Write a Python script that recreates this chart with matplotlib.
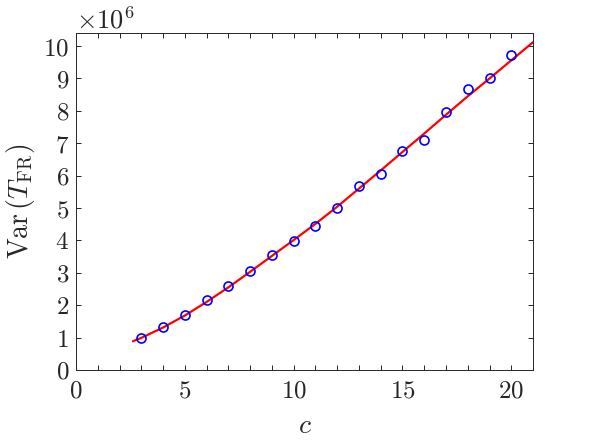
import matplotlib
matplotlib.use("Agg")
import matplotlib.pyplot as plt
from matplotlib.ticker import MultipleLocator, FixedLocator

plt.rcParams['mathtext.fontset'] = 'cm'
plt.rcParams['font.family'] = 'DejaVu Serif'

# measured variance (units of 1e6) for each c
c_vals = [3, 4, 5, 6, 7, 8, 9, 10, 11, 12, 13, 14, 15, 16, 17, 18, 19, 20]
var_vals = [1.00, 1.33, 1.69, 2.17, 2.59, 3.06, 3.56, 3.97, 4.46, 5.01,
            5.68, 6.06, 6.76, 7.11, 7.98, 8.66, 9.03, 9.72]

# fitted curve
fit_c = [2.63, 3, 4, 5, 6, 7, 8, 9, 10, 11, 12, 13, 14, 15, 16, 17, 18, 19, 20, 21]
fit_var = [0.89, 0.99, 1.31, 1.68, 2.10, 2.55, 3.03, 3.52, 4.01, 4.51, 5.04,
           5.60, 6.16, 6.73, 7.30, 7.88, 8.45, 9.00, 9.56, 10.12]

xticks = [0, 5, 10, 15, 20]
yticks = list(range(11))

fig = plt.figure(figsize=(5.89, 4.42), dpi=100)
ax = fig.add_axes([0.129, 0.163, 0.776, 0.762])

ax.plot(fit_c, fit_var, color='red', lw=1.6, zorder=2)
ax.plot(c_vals, var_vals, 'o', mfc='none', mec='blue', ms=6.5, mew=1.2, zorder=3)

ax.set_xlim(0, 21)
ax.set_ylim(0, 10.4)
ax.xaxis.set_major_locator(FixedLocator(xticks))
ax.xaxis.set_minor_locator(MultipleLocator(1))
ax.yaxis.set_major_locator(FixedLocator(yticks))
ax.set_xticklabels(['$%d$' % t for t in xticks])
ax.set_yticklabels(['$%d$' % t for t in yticks])

for s in ax.spines.values():
    s.set_color('#262626')
    s.set_linewidth(0.7)
ax.tick_params(which='both', direction='in', top=True, right=True,
               color='#262626', width=0.7)
ax.tick_params(which='major', length=3.5, labelsize=18, colors='#262626')
ax.tick_params(axis='x', which='major', pad=7)
ax.tick_params(axis='y', which='major', pad=5)
ax.tick_params(which='minor', length=3.5)
for lab in ax.get_xticklabels() + ax.get_yticklabels():
    lab.set_color('#262626')

ax.set_xlabel('$c$', fontsize=20, color='#262626', labelpad=7)
ax.set_ylabel(r'$\mathrm{Var}\,(T_{\mathrm{FR}})$', fontsize=20, color='#262626', labelpad=4)
ax.text(0.0, 1.0, r'$\times10^{6}$', transform=ax.transAxes, fontsize=19,
        color='#262626', ha='left', va='bottom')

fig.savefig('out.png', dpi=100)
